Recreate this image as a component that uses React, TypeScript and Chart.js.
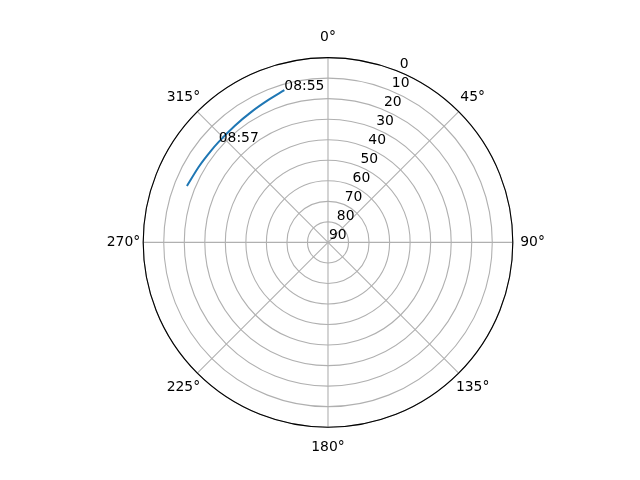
import React, { useEffect, useRef } from "react";
import { Chart, registerables } from "chart.js";

Chart.register(...registerables);

// Satellite pass track: azimuth (deg, clockwise from north) and elevation (deg)
const AZIMUTH = [344.0, 337.3, 329.6, 321.4, 312.6, 307.8, 300.6, 291.8];
const ELEVATION = [12.9, 14.8, 16.3, 17.3, 17.7, 17.6, 17.1, 16.0];

// Time annotations placed on the track
const ANNOT_TIME = ["08:55", "08:57"];
const ANNOT_AZ = [344.0, 312.6];
const ANNOT_EL = [12.9, 17.7];

// Axis ticks
const ELEV_TICKS = [0, 10, 20, 30, 40, 50, 60, 70, 80, 90];
const THETA_TICKS = [0, 45, 90, 135, 180, 225, 270, 315];
const THETA_LABELS = ["0°", "45°", "90°", "135°", "180°", "225°", "270°", "315°"];

const FONT = "13.9px 'DejaVu Sans'";

const toXY = (az: number, el: number) => {
  const rho = 90 - el;
  const a = (az * Math.PI) / 180;
  return { x: rho * Math.sin(a), y: rho * Math.cos(a) };
};

const polarPlugin = {
  id: "polarGrid",
  beforeDatasetsDraw(chart: any) {
    const ctx = chart.ctx;
    const xs = chart.scales.x;
    const ys = chart.scales.y;
    const cx = xs.getPixelForValue(0);
    const cy = ys.getPixelForValue(0);
    const pr = (rho: number) => xs.getPixelForValue(rho) - cx;
    ctx.save();
    ctx.strokeStyle = "#b0b0b0";
    ctx.lineWidth = 1.1;
    ELEV_TICKS.forEach((el) => {
      const r = pr(90 - el);
      if (r <= 0) return;
      ctx.beginPath();
      ctx.arc(cx, cy, r, 0, Math.PI * 2);
      ctx.stroke();
    });
    THETA_TICKS.forEach((az) => {
      const p = toXY(az, 0);
      ctx.beginPath();
      ctx.moveTo(cx, cy);
      ctx.lineTo(xs.getPixelForValue(p.x), ys.getPixelForValue(p.y));
      ctx.stroke();
    });
    ctx.restore();
  },
  afterDatasetsDraw(chart: any) {
    const ctx = chart.ctx;
    const xs = chart.scales.x;
    const ys = chart.scales.y;
    const cx = xs.getPixelForValue(0);
    const cy = ys.getPixelForValue(0);
    ctx.save();
    // outer spine
    ctx.strokeStyle = "#000000";
    ctx.lineWidth = 1.1;
    ctx.beginPath();
    ctx.arc(cx, cy, xs.getPixelForValue(90) - cx, 0, Math.PI * 2);
    ctx.stroke();

    ctx.fillStyle = "#000000";
    ctx.font = FONT;
    // radial tick labels at 22.5°
    ctx.textAlign = "left";
    ctx.textBaseline = "alphabetic";
    ELEV_TICKS.forEach((el) => {
      const p = toXY(22.5, el);
      ctx.fillText(String(el), xs.getPixelForValue(p.x) + 1, ys.getPixelForValue(p.y) - 3.3);
    });
    // theta labels
    ctx.textAlign = "center";
    ctx.textBaseline = "middle";
    THETA_TICKS.forEach((az, i) => {
      const p = toXY(az, 90 - 99.6);
      ctx.fillText(THETA_LABELS[i], xs.getPixelForValue(p.x), ys.getPixelForValue(p.y));
    });
    // time annotations
    ctx.textAlign = "left";
    ctx.textBaseline = "alphabetic";
    ANNOT_TIME.forEach((t, i) => {
      const p = toXY(ANNOT_AZ[i], ANNOT_EL[i]);
      ctx.fillText(t, xs.getPixelForValue(p.x), ys.getPixelForValue(p.y));
    });
    ctx.restore();
  },
};

export default function App() {
  const ref = useRef<HTMLCanvasElement>(null);
  useEffect(() => {
    if (!ref.current) return;
    const data = AZIMUTH.map((az, i) => toXY(az, ELEVATION[i]));
    const chart = new Chart(ref.current, {
      type: "scatter",
      data: {
        datasets: [
          {
            data,
            showLine: true,
            borderColor: "#1f77b4",
            backgroundColor: "#1f77b4",
            borderWidth: 2,
            pointRadius: 0,
            cubicInterpolationMode: "monotone",
          },
        ],
      },
      options: {
        responsive: false,
        animation: false,
        devicePixelRatio: 1,
        layout: { padding: { left: 143.2, right: 127.2, top: 57.6, bottom: 52.8 } },
        plugins: { legend: { display: false }, tooltip: { enabled: false } },
        scales: {
          x: { type: "linear", min: -90, max: 90, display: false },
          y: { type: "linear", min: -90, max: 90, display: false },
        },
      },
      plugins: [polarPlugin],
    });
    return () => chart.destroy();
  }, []);
  return (
    <div style={{ position: "fixed", left: 0, top: 0, width: 640, height: 480, background: "#fff" }}>
      <canvas ref={ref} width={640} height={480} style={{ width: 640, height: 480 }} />
    </div>
  );
}
